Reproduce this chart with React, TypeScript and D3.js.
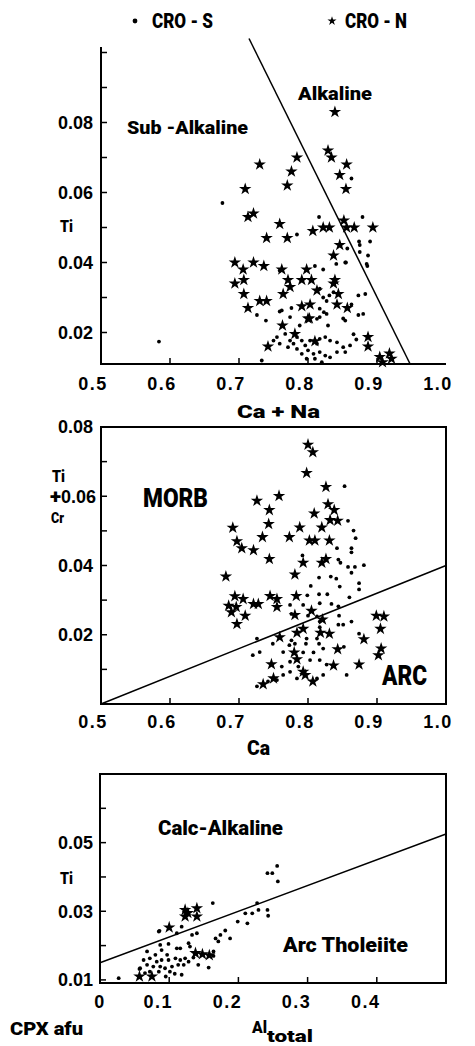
import React from 'react';
import * as d3 from 'd3';

// CRO-N (stars) and CRO-S (dots) clinopyroxene analyses
const p1Stars: [number, number][] = [
  [0.839, 0.083], [0.829, 0.072], [0.834, 0.070], [0.856, 0.068], [0.846, 0.065], [0.855, 0.061],
  [0.784, 0.070], [0.730, 0.068], [0.776, 0.066], [0.770, 0.062], [0.709, 0.061], [0.713, 0.053],
  [0.721, 0.054], [0.759, 0.051], [0.740, 0.047], [0.770, 0.047], [0.807, 0.049], [0.822, 0.050],
  [0.831, 0.050], [0.852, 0.052], [0.856, 0.050], [0.867, 0.050], [0.894, 0.050], [0.846, 0.045],
  [0.837, 0.042], [0.694, 0.040], [0.721, 0.040], [0.736, 0.039], [0.706, 0.038], [0.694, 0.034],
  [0.707, 0.035], [0.762, 0.038], [0.771, 0.035], [0.774, 0.033], [0.791, 0.035], [0.798, 0.038],
  [0.805, 0.035], [0.813, 0.032], [0.839, 0.035], [0.837, 0.034], [0.844, 0.031], [0.842, 0.028],
  [0.857, 0.027], [0.707, 0.031], [0.713, 0.027], [0.730, 0.029], [0.740, 0.029], [0.764, 0.031],
  [0.791, 0.0275], [0.803, 0.028], [0.802, 0.024], [0.763, 0.022], [0.781, 0.0196], [0.742, 0.016],
  [0.810, 0.0175], [0.887, 0.0187], [0.887, 0.016], [0.904, 0.013], [0.918, 0.014], [0.908, 0.0115],
  [0.921, 0.0125], [0.800, 0.024],
];
const p1Dots: [number, number][] = [
  [0.584, 0.0174], [0.676, 0.057], [0.816, 0.053], [0.879, 0.053], [0.863, 0.064], [0.890, 0.046],
  [0.874, 0.046], [0.875, 0.043], [0.887, 0.042], [0.886, 0.039], [0.855, 0.040], [0.822, 0.038],
  [0.857, 0.044], [0.784, 0.048], [0.883, 0.031], [0.873, 0.0306], [0.873, 0.025], [0.880, 0.0253],
  [0.726, 0.025], [0.739, 0.0234], [0.759, 0.026], [0.776, 0.027], [0.774, 0.0244], [0.788, 0.022],
  [0.817, 0.0244], [0.827, 0.0253], [0.829, 0.022], [0.851, 0.024], [0.822, 0.030], [0.831, 0.0306],
  [0.837, 0.0315], [0.817, 0.0325], [0.875, 0.045], [0.885, 0.0396], [0.854, 0.040], [0.841, 0.0396],
  [0.810, 0.039], [0.863, 0.028], [0.854, 0.0234], [0.827, 0.029], [0.817, 0.0268], [0.823, 0.0258],
  [0.813, 0.0239], [0.762, 0.0263], [0.755, 0.0187], [0.767, 0.0196], [0.774, 0.0177], [0.784, 0.0187],
  [0.791, 0.0177], [0.796, 0.0163], [0.803, 0.0177], [0.813, 0.0168], [0.817, 0.0182], [0.825, 0.0187],
  [0.832, 0.0177], [0.842, 0.0172], [0.851, 0.0158], [0.861, 0.0163], [0.800, 0.0149], [0.808, 0.0139],
  [0.817, 0.0144], [0.825, 0.0134], [0.832, 0.0129], [0.842, 0.0144], [0.854, 0.0144], [0.784, 0.0153],
  [0.791, 0.0139], [0.798, 0.0125], [0.810, 0.0125], [0.759, 0.0168], [0.771, 0.0158], [0.750, 0.0177],
  [0.779, 0.0168], [0.759, 0.0377], [0.733, 0.012], [0.820, 0.0115], [0.866, 0.0195], [0.870, 0.018],
];

const p2Stars: [number, number][] = [
  [0.800, 0.0749], [0.807, 0.0727], [0.798, 0.0667], [0.826, 0.0627], [0.758, 0.0601], [0.726, 0.0587],
  [0.744, 0.056], [0.829, 0.0577], [0.838, 0.056], [0.809, 0.055], [0.832, 0.0531], [0.843, 0.0529],
  [0.743, 0.052], [0.691, 0.0509], [0.788, 0.051], [0.820, 0.051], [0.697, 0.047], [0.704, 0.045],
  [0.721, 0.0444], [0.734, 0.0482], [0.773, 0.0482], [0.802, 0.0472], [0.810, 0.0472], [0.831, 0.0472],
  [0.744, 0.0419], [0.793, 0.0408], [0.820, 0.0408], [0.826, 0.0419], [0.681, 0.0368], [0.781, 0.0374],
  [0.694, 0.0311], [0.706, 0.0303], [0.685, 0.0284], [0.696, 0.028], [0.689, 0.0265], [0.709, 0.0255],
  [0.697, 0.0231], [0.721, 0.0289], [0.728, 0.0289], [0.745, 0.0312], [0.755, 0.0303], [0.755, 0.028],
  [0.783, 0.0312], [0.781, 0.0257], [0.805, 0.0269], [0.821, 0.0244], [0.784, 0.0206], [0.793, 0.0217],
  [0.818, 0.0206], [0.831, 0.0203], [0.759, 0.0193], [0.843, 0.0158], [0.780, 0.0149], [0.784, 0.0129],
  [0.747, 0.0115], [0.837, 0.0111], [0.874, 0.0114], [0.881, 0.0187], [0.899, 0.0255], [0.910, 0.0253],
  [0.905, 0.0217], [0.906, 0.016], [0.902, 0.0141], [0.750, 0.0074], [0.735, 0.0057], [0.796, 0.0084],
  [0.807, 0.0065], [0.793, 0.0093],
];
const p2Dots: [number, number][] = [
  [0.853, 0.0629], [0.858, 0.0529], [0.866, 0.0501], [0.869, 0.0479], [0.842, 0.045], [0.863, 0.045],
  [0.863, 0.0438], [0.792, 0.0429], [0.844, 0.0417], [0.847, 0.0408], [0.858, 0.0396], [0.868, 0.0396],
  [0.881, 0.0401], [0.863, 0.0379], [0.816, 0.0365], [0.833, 0.0368], [0.841, 0.0362], [0.804, 0.0341],
  [0.846, 0.0339], [0.874, 0.0349], [0.874, 0.0331], [0.816, 0.0317], [0.828, 0.0317], [0.799, 0.0314],
  [0.860, 0.0308], [0.774, 0.0286], [0.793, 0.0286], [0.817, 0.0291], [0.834, 0.0289], [0.844, 0.0282],
  [0.776, 0.026], [0.800, 0.0255], [0.813, 0.0253], [0.817, 0.0238], [0.845, 0.0255], [0.863, 0.0238],
  [0.817, 0.0222], [0.844, 0.0229], [0.851, 0.0229], [0.874, 0.0203], [0.776, 0.0184], [0.798, 0.0189],
  [0.813, 0.0189], [0.726, 0.0189], [0.749, 0.0174], [0.730, 0.015], [0.720, 0.0141], [0.773, 0.017],
  [0.781, 0.0174], [0.797, 0.0174], [0.816, 0.0174], [0.822, 0.016], [0.852, 0.0165], [0.764, 0.015],
  [0.793, 0.0149], [0.808, 0.0149], [0.817, 0.0127], [0.803, 0.0127], [0.774, 0.0122], [0.762, 0.0108],
  [0.786, 0.0108], [0.827, 0.0114], [0.822, 0.0084], [0.856, 0.0084], [0.774, 0.0093], [0.764, 0.0084],
  [0.755, 0.0069], [0.742, 0.0065], [0.726, 0.0051], [0.784, 0.0074], [0.813, 0.0074],
];

const p3Stars: [number, number][] = [
  [0.123, 0.0304], [0.140, 0.0309], [0.123, 0.0285], [0.140, 0.0285], [0.100, 0.0253], [0.057, 0.011],
  [0.075, 0.011], [0.138, 0.0178], [0.148, 0.0175], [0.158, 0.0172], [0.127, 0.0295],
];
const p3Dots: [number, number][] = [
  [0.027, 0.0105], [0.086, 0.0243], [0.163, 0.0324], [0.111, 0.0236], [0.118, 0.0255], [0.133, 0.0231],
  [0.140, 0.0236], [0.128, 0.0207], [0.130, 0.0197], [0.087, 0.0202], [0.099, 0.0205], [0.111, 0.0192],
  [0.116, 0.0192], [0.089, 0.0187], [0.068, 0.0183], [0.097, 0.0173], [0.080, 0.0173], [0.063, 0.0158],
  [0.072, 0.0163], [0.082, 0.0153], [0.089, 0.0158], [0.099, 0.0158], [0.109, 0.0163], [0.116, 0.0158],
  [0.123, 0.0163], [0.128, 0.0153], [0.068, 0.0144], [0.077, 0.0139], [0.087, 0.0139], [0.094, 0.0134],
  [0.104, 0.0139], [0.113, 0.0144], [0.121, 0.0144], [0.058, 0.0134], [0.072, 0.0124], [0.085, 0.0124],
  [0.101, 0.0124], [0.118, 0.0115], [0.065, 0.012], [0.142, 0.0144], [0.157, 0.0136], [0.164, 0.0183],
  [0.164, 0.017], [0.167, 0.0221], [0.174, 0.0231], [0.181, 0.0244], [0.171, 0.0212], [0.188, 0.0221],
  [0.199, 0.027], [0.213, 0.0265], [0.210, 0.0294], [0.220, 0.0294], [0.227, 0.0324], [0.229, 0.0304],
  [0.242, 0.0304], [0.243, 0.0287], [0.242, 0.0411], [0.249, 0.0411], [0.256, 0.0432], [0.257, 0.0387],
  [0.085, 0.0241], [0.057, 0.0132], [0.095, 0.0110], [0.108, 0.0118], [0.135, 0.0165],
];

// discriminant lines
const p1Line: [number, number][] = [[0.7145, 0.104], [0.948, 0.011]];
const p2Line: [number, number][] = [[0.5, 0], [1.0, 0.04]];
const p3Line: [number, number][] = [[0, 0.015], [0.5, 0.0525]];

const caTicks = [0.5, 0.6, 0.7, 0.8, 0.9, 1.0];
const alTicks = [0, 0.1, 0.2, 0.3, 0.4];
const p1YLabels = [0.02, 0.04, 0.06, 0.08];
const p2YLabels = [0.02, 0.04, 0.06, 0.08];
const p3YLabels = [0.01, 0.03, 0.05];

const cond = "Roboto,'DejaVu Sans Condensed',sans-serif";
const num = "'Liberation Sans',Arial,sans-serif";

const xCa = d3.scaleLinear().domain([0.5, 1.0]).range([101, 446]);
const xAl = d3.scaleLinear().domain([0, 0.5]).range([100, 446]);
const y1 = d3.scaleLinear().domain([0.011, 0.101]).range([364, 49]);
const y2 = d3.scaleLinear().domain([0, 0.08]).range([704, 427]);
const y3 = d3.scaleLinear().domain([0.0091, 0.07]).range([983, 774]);

const starPath = d3.symbol(d3.symbolStar, 48)() as string;
const legendStar = d3.symbol(d3.symbolStar, 26)() as string;
const line = d3.line();

function Marks({ stars, dots, x, y }: any) {
  return (
    <g>
      {dots.map((d: [number, number], i: number) => (
        <circle key={'d' + i} cx={x(d[0])} cy={y(d[1])} r={1.9} fill="#000" />
      ))}
      {stars.map((d: [number, number], i: number) => (
        <path key={'s' + i} d={starPath} transform={`translate(${x(d[0])},${y(d[1])})`} fill="#000" />
      ))}
    </g>
  );
}

function Lbl({ x, y, size, len, children, anchor }: any) {
  return (
    <text x={x} y={y} fontFamily={cond} fontWeight={900} fontSize={size} textLength={len}
      lengthAdjust="spacingAndGlyphs" textAnchor={anchor || 'start'}>{children}</text>
  );
}

function YLabel({ y, t, x }: any) {
  return (
    <text x={x || 93} y={y} dy="0.36em" textAnchor="end" fontFamily={num} fontWeight="bold" fontSize={18}>{t.toFixed(2)}</text>
  );
}

export default function App() {
  const p1Ticks = d3.range(0.02, 0.1001, 0.01);
  const p2Ticks = d3.range(0.01, 0.0701, 0.01);
  const p3Ticks = d3.range(0.01, 0.0601, 0.01);
  return (
    <svg width={475} height={1046} style={{ position: 'absolute', left: 0, top: 0, background: '#fff' }}>
      {/* legend */}
      <circle cx={135} cy={21} r={2.4} fill="#000" />
      <Lbl x={152} y={28} size={20} len={61}>CRO - S</Lbl>
      <path d={legendStar} transform="translate(332,21)" fill="#000" />
      <Lbl x={345} y={28} size={20} len={62}>CRO - N</Lbl>

      {/* panel 1 */}
      <g stroke="#000" fill="none">
        <line x1={101} x2={101} y1={47} y2={365} strokeWidth={2} />
        <line x1={100} x2={446} y1={364} y2={364} strokeWidth={2} />
        {p1Ticks.map((t) => <line key={t} x1={101} x2={107} y1={y1(t)} y2={y1(t)} strokeWidth={1.5} />)}
        {caTicks.slice(1, 5).map((t) => <line key={t} x1={xCa(t)} x2={xCa(t)} y1={364} y2={358} strokeWidth={1.5} />)}
        <path d={line(p1Line.map((d) => [xCa(d[0]), y1(d[1])]) as any) as string} strokeWidth={1.5} />
      </g>
      <Marks stars={p1Stars} dots={p1Dots} x={xCa} y={y1} />
      {p1YLabels.map((t) => <YLabel key={t} y={y1(t)} t={t} />)}
      {caTicks.map((t) => (
        <text key={t} x={xCa(t) - 8} y={390} textAnchor="middle" fontFamily={num} fontWeight="bold" fontSize={18} letterSpacing={1.5}>{t.toFixed(1)}</text>
      ))}
      <Lbl x={60} y={232} size={17} len={13}>Ti</Lbl>
      <Lbl x={127} y={134} size={19} len={121}>Sub -Alkaline</Lbl>
      <Lbl x={298} y={100} size={18} len={74}>Alkaline</Lbl>
      <Lbl x={237} y={418} size={18} len={83}>Ca + Na</Lbl>

      {/* panel 2 */}
      <g stroke="#000" fill="none">
        <rect x={101} y={427} width={345} height={277} strokeWidth={2} />
        {p2Ticks.map((t) => <line key={t} x1={101} x2={107} y1={y2(t)} y2={y2(t)} strokeWidth={1.5} />)}
        {caTicks.slice(1, 5).map((t) => <line key={t} x1={xCa(t)} x2={xCa(t)} y1={704} y2={698} strokeWidth={1.5} />)}
        <path d={line(p2Line.map((d) => [xCa(d[0]), y2(d[1])]) as any) as string} strokeWidth={1.5} />
      </g>
      <Marks stars={p2Stars} dots={p2Dots} x={xCa} y={y2} />
      {p2YLabels.map((t) => <YLabel key={t} y={y2(t)} t={t} x={t === 0.06 ? 96 : 93} />)}
      {caTicks.map((t) => (
        <text key={t} x={xCa(t) - 8} y={728} textAnchor="middle" fontFamily={num} fontWeight="bold" fontSize={18} letterSpacing={1.5}>{t.toFixed(1)}</text>
      ))}
      <Lbl x={52} y={482} size={16} len={13}>Ti</Lbl>
      <Lbl x={50} y={503} size={20} len={11}>+</Lbl>
      <Lbl x={51} y={523} size={15} len={13}>Cr</Lbl>
      <Lbl x={143} y={507} size={26} len={65}>MORB</Lbl>
      <Lbl x={382} y={685} size={27} len={45}>ARC</Lbl>
      <Lbl x={247} y={755} size={20} len={23}>Ca</Lbl>

      {/* panel 3 */}
      <g stroke="#000" fill="none">
        <rect x={100} y={774} width={346} height={209} strokeWidth={2} />
        {p3Ticks.map((t) => <line key={t} x1={100} x2={106} y1={y3(t)} y2={y3(t)} strokeWidth={1.5} />)}
        {alTicks.slice(1).map((t) => <line key={t} x1={xAl(t)} x2={xAl(t)} y1={983} y2={977} strokeWidth={1.5} />)}
        <path d={line(p3Line.map((d) => [xAl(d[0]), y3(d[1])]) as any) as string} strokeWidth={1.5} />
      </g>
      <Marks stars={p3Stars} dots={p3Dots} x={xAl} y={y3} />
      {p3YLabels.map((t) => <YLabel key={t} y={y3(t)} t={t} />)}
      {alTicks.map((t) => (
        <text key={t} x={t === 0 ? xAl(t) : xAl(t) - 11} y={1008} textAnchor="middle" fontFamily={num} fontWeight="bold" fontSize={18} letterSpacing={1.5}>{t === 0 ? '0' : t.toFixed(1)}</text>
      ))}
      <Lbl x={60} y={884} size={17} len={13}>Ti</Lbl>
      <Lbl x={158} y={835} size={20} len={125}>Calc-Alkaline</Lbl>
      <Lbl x={283} y={952} size={20} len={125}>Arc  Tholeiite</Lbl>
      <Lbl x={10} y={1035} size={18} len={73}>CPX  afu</Lbl>
      <Lbl x={252} y={1033} size={17} len={15}>Al</Lbl>
      <Lbl x={267} y={1042} size={17} len={46}>total</Lbl>
    </svg>
  );
}
